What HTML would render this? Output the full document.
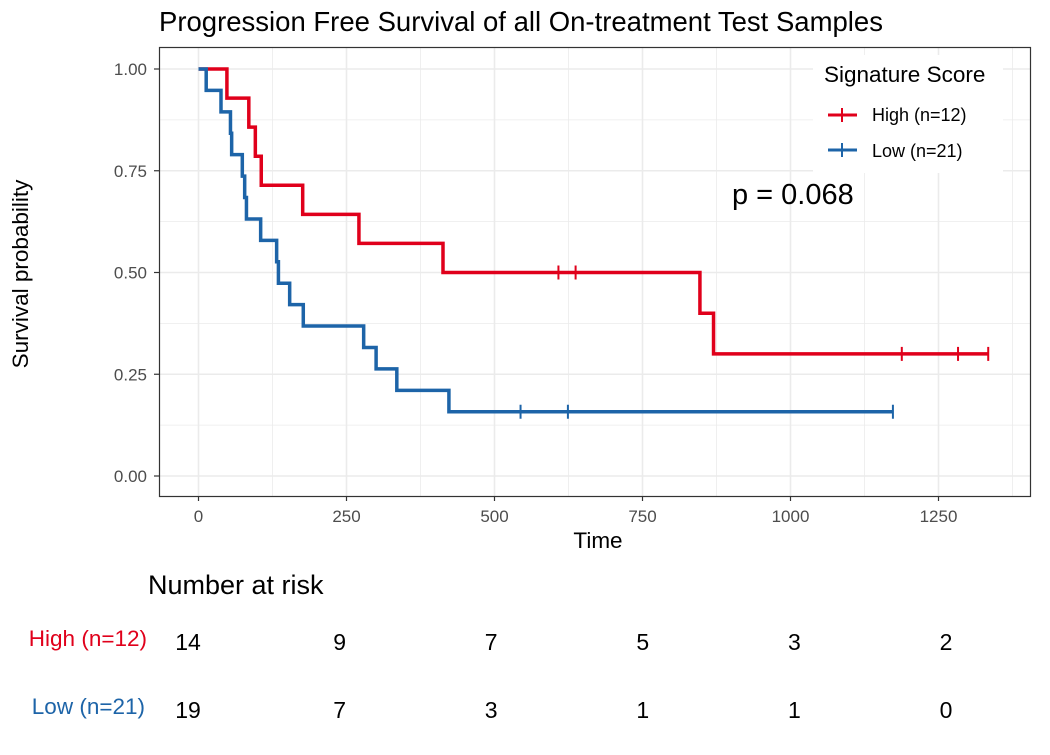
<!DOCTYPE html>
<html><head><meta charset="utf-8"><style>
body{margin:0;background:#fff;width:1050px;height:750px;overflow:hidden;font-family:"Liberation Sans",Arial,sans-serif}
</style></head><body>
<svg id="chart" width="1050" height="750" viewBox="0 0 1050 750" font-family="Liberation Sans, Arial, sans-serif">
<text x="159" y="31" font-size="27.5" fill="#000">Progression Free Survival of all On-treatment Test Samples</text>
<g id="grid"></g>
<g id="curves"></g>
<rect x="159.5" y="47.5" width="871" height="449" fill="none" stroke="#333" stroke-width="1.2"/>
<g id="axes"></g>
<text x="598" y="548" font-size="22.5" text-anchor="middle">Time</text>
<text x="28" y="274" font-size="22.5" text-anchor="middle" transform="rotate(-90 28 274)">Survival probability</text>
<g>
<rect x="813" y="55" width="190" height="118" fill="#fff"/>
<text x="824" y="82" font-size="22.5">Signature Score</text>
<g>
<line x1="828" y1="115" x2="857" y2="115" stroke="#e0001b" stroke-width="3"/><line x1="842" y1="108" x2="842" y2="122" stroke="#e0001b" stroke-width="2"/>
<text x="872" y="121" font-size="18">High (n=12)</text></g>
<g>
<line x1="828" y1="150" x2="857" y2="150" stroke="#1d64a8" stroke-width="3"/><line x1="842" y1="143" x2="842" y2="157" stroke="#1d64a8" stroke-width="2"/>
<text x="872" y="157" font-size="18">Low (n=21)</text></g>
</g>
<text x="732" y="204" font-size="29">p = 0.068</text>
<text x="148" y="594" font-size="27">Number at risk</text>
<text x="147" y="646" font-size="22.5" fill="#e0001b" text-anchor="end">High (n=12)</text>
<text x="145" y="714" font-size="22.5" fill="#1d64a8" text-anchor="end">Low (n=21)</text>
<g id="risk"></g>
</svg>
<script>
const highTimes=[48,85,96,106,176,271,413,608,637,847,870,1188,1283,1334];
const highEvents=[1,1,1,1,1,1,1,0,0,1,1,0,0,0];
const lowTimes=[13,38,54,56,74,78,81,105,132,135,154,177,279,300,335,423,544,624,1173];
const lowEvents=[1,1,1,1,1,1,1,1,1,1,1,1,1,1,1,1,0,0,0];
const xTicks=[0,250,500,750,1000,1250];
const yTicks=[0,0.25,0.5,0.75,1];
const yTickLabels=["0.00","0.25","0.50","0.75","1.00"];
const riskHigh=[14,9,7,5,3,2];
const riskLow=[19,7,3,1,1,0];
const NS="http://www.w3.org/2000/svg";
const X=t=>198.5+t*0.592;
const Y=p=>476-p*407;
const RX=t=>188+t*0.6064;
function mk(tag,attrs,parent){const e=document.createElementNS(NS,tag);for(const k in attrs)e.setAttribute(k,attrs[k]);parent.appendChild(e);return e;}
const grid=document.getElementById('grid'),axes=document.getElementById('axes'),curves=document.getElementById('curves'),risk=document.getElementById('risk');
mk('rect',{x:159.5,y:47.5,width:871,height:449,fill:'#fff'},grid);
for(let t=-125;t<=1375;t+=125){const x=X(t);if(x<160||x>1030)continue;
 const l=mk('line',{x1:x,x2:x,y1:48,y2:496,stroke:'#ebebeb','stroke-width':t%250===0?1.6:0.8},grid);
 
 }
for(let p=-0.125;p<=1.125;p+=0.125){const y=Y(p);if(y<48||y>496)continue;
 const l=mk('line',{x1:160,x2:1030,y1:y,y2:y,stroke:'#ebebeb','stroke-width':Math.abs(p*4-Math.round(p*4))<1e-6?1.6:0.8},grid);
 
 }
xTicks.forEach(t=>{mk('line',{x1:X(t),x2:X(t),y1:496,y2:501,stroke:'#333','stroke-width':1.2},axes);
 const tx=mk('text',{x:X(t),y:522,'font-size':17,fill:'#4d4d4d','text-anchor':'middle'},axes);tx.textContent=t;
 
 });
yTicks.forEach((p,i)=>{mk('line',{x1:154,x2:159,y1:Y(p),y2:Y(p),stroke:'#333','stroke-width':1.2},axes);
 const tx=mk('text',{x:147,y:Y(p)+6,'font-size':17,fill:'#4d4d4d','text-anchor':'end'},axes);tx.textContent=yTickLabels[i];
 
 });
function km(times,events,color,name){
 let n=times.length,s=1,d=`M${X(0)},${Y(1)}`,cens=[],i=0;
 while(i<times.length){const t=times[i];let ev=0,c=0;
  while(i<times.length&&times[i]===t){if(events[i])ev++;else c++;i++;}
  d+=` H${X(t)}`;
  if(ev){s*=(n-ev)/n;d+=` V${Y(s)}`;}
  if(c)cens.push([t,s]);
  n-=ev+c;}
 const p=mk('path',{d:d,fill:'none',stroke:color,'stroke-width':3.5},curves);
 
 
 cens.forEach(([t,sv])=>{const m=mk('line',{x1:X(t),x2:X(t),y1:Y(sv)-7,y2:Y(sv)+7,stroke:color,'stroke-width':2},curves);
  
  });
}
km(highTimes,highEvents,'#e0001b','high');
km(lowTimes,lowEvents,'#1d64a8','low');
xTicks.forEach((t,i)=>{
 const a=mk('text',{x:RX(t),y:650,'font-size':23,'text-anchor':'middle'},risk);a.textContent=riskHigh[i];
 
 
 const b=mk('text',{x:RX(t),y:718,'font-size':23,'text-anchor':'middle'},risk);b.textContent=riskLow[i];
 
 
});
</script>
</body></html>
